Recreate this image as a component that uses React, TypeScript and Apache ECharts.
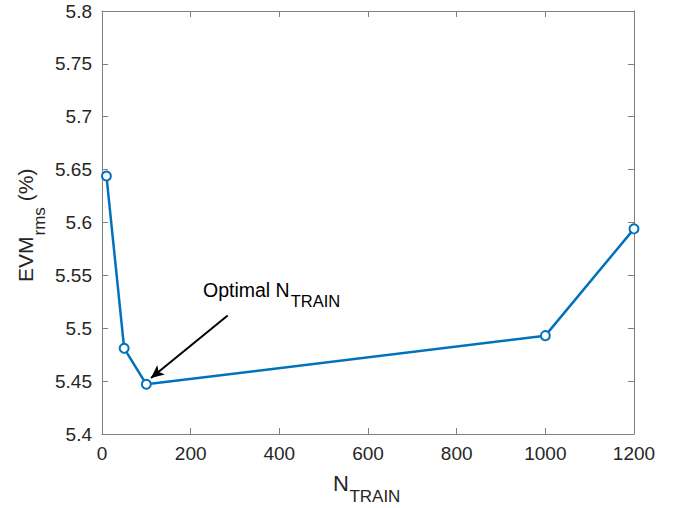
import React, { useEffect, useRef } from "react";
import * as echarts from "echarts";

const nTrain = [10, 50, 100, 1000, 1200];
const evmRms = [5.644, 5.481, 5.447, 5.493, 5.594];
const xTickValues = [0, 200, 400, 600, 800, 1000, 1200];
const yTickValues = [5.4, 5.45, 5.5, 5.55, 5.6, 5.65, 5.7, 5.75, 5.8];
const arrowStart = [283.5, 5.512];
const arrowEnd = [110.5, 5.453];

const FONT = "Liberation Sans";
const TEXT = "#262626";
const AXIS = "#7f7f7f";

function textWidth(text: string, size: number): number {
  const c = document.createElement("canvas").getContext("2d");
  if (!c) return text.length * size * 0.55;
  c.font = `${size}px "${FONT}"`;
  return c.measureText(text).width;
}

export default function App() {
  const ref = useRef<HTMLDivElement>(null);
  useEffect(() => {
    if (!ref.current) return;
    const chart = echarts.init(ref.current, undefined, { renderer: "svg" });
    const xMin = xTickValues[0];
    const xMax = xTickValues[xTickValues.length - 1];
    const xInt = xTickValues[1] - xTickValues[0];
    const yMin = yTickValues[0];
    const yMax = yTickValues[yTickValues.length - 1];
    const yInt = 0.05;
    const axisCommon = {
      axisLine: { show: true, onZero: false, lineStyle: { color: AXIS, width: 1 } },
      axisTick: { show: true, inside: true, length: 6, lineStyle: { color: AXIS, width: 1 } },
      splitLine: { show: false },
    };
    const annX = 203;
    const annSize = 19.5;
    const annSubX = annX + textWidth("Optimal N", annSize) + 1;
    const evmW = textWidth("EVM", 21);
    const rmsW = textWidth("rms", 17);
    const option: any = {
      animation: false,
      backgroundColor: "#ffffff",
      grid: { left: 102, right: 47, top: 11, bottom: 74, containLabel: false },
      xAxis: [
        {
          type: "value",
          position: "bottom",
          min: xMin,
          max: xMax,
          interval: xInt,
          ...axisCommon,
          axisLabel: {
            color: TEXT,
            fontSize: 19,
            fontFamily: FONT,
            margin: 10,
            formatter: (v: number) => String(v),
          },
        },
        {
          type: "value",
          position: "top",
          min: xMin,
          max: xMax,
          interval: xInt,
          ...axisCommon,
          axisLabel: { show: false },
        },
      ],
      yAxis: [
        {
          type: "value",
          position: "left",
          min: yMin,
          max: yMax,
          interval: yInt,
          ...axisCommon,
          axisLabel: {
            color: TEXT,
            fontSize: 19,
            fontFamily: FONT,
            margin: 10,
            formatter: (v: number) => String(+v.toFixed(2)),
          },
        },
        {
          type: "value",
          position: "right",
          min: yMin,
          max: yMax,
          interval: yInt,
          ...axisCommon,
          axisLabel: { show: false },
        },
      ],
      series: [
        {
          type: "line",
          data: nTrain.map((x, i) => [x, evmRms[i]]),
          clip: false,
          symbol: "emptyCircle",
          symbolSize: 9,
          lineStyle: { color: "#0072BD", width: 2.5 },
          itemStyle: { color: "#0072BD", borderColor: "#0072BD", borderWidth: 2.5 },
          emphasis: { disabled: true },
          markLine: {
            silent: true,
            symbol: ["none", "arrow"],
            symbolSize: [9, 13],
            label: { show: false },
            lineStyle: { color: "#000000", width: 2, type: "solid" },
            emphasis: { disabled: true },
            data: [[{ coord: arrowStart }, { coord: arrowEnd }]],
          },
        },
      ],
      graphic: [
        {
          type: "text",
          x: annX,
          y: 289.5,
          style: { text: "Optimal N", fill: "#000", fontSize: annSize, fontFamily: FONT, verticalAlign: "middle", align: "left" },
        },
        {
          type: "text",
          x: annSubX,
          y: 300.5,
          style: { text: "TRAIN", fill: "#000", fontSize: 16.5, fontFamily: FONT, verticalAlign: "middle", align: "left" },
        },
        {
          type: "text",
          x: 333,
          y: 483.5,
          style: { text: "N", fill: TEXT, fontSize: 22, fontFamily: FONT, verticalAlign: "middle", align: "left" },
        },
        {
          type: "text",
          x: 333 + textWidth("N", 22) + 0.5,
          y: 496.5,
          style: { text: "TRAIN", fill: TEXT, fontSize: 17, fontFamily: FONT, verticalAlign: "middle", align: "left" },
        },
        {
          type: "group",
          x: 25.5,
          y: 282,
          rotation: Math.PI / 2,
          children: [
            {
              type: "text",
              x: 0,
              y: 0,
              style: { text: "EVM", fill: TEXT, fontSize: 21, fontFamily: FONT, verticalAlign: "middle", align: "left" },
            },
            {
              type: "text",
              x: evmW + 1,
              y: 13.5,
              style: { text: "rms", fill: TEXT, fontSize: 17, fontFamily: FONT, verticalAlign: "middle", align: "left" },
            },
            {
              type: "text",
              x: evmW + 1 + rmsW + 6,
              y: 0,
              style: { text: "(%)", fill: TEXT, fontSize: 21, fontFamily: FONT, verticalAlign: "middle", align: "left" },
            },
          ],
        },
      ],
    };
    chart.setOption(option);
    return () => chart.dispose();
  }, []);
  return (
    <div
      ref={ref}
      style={{ position: "fixed", left: 0, top: 0, width: 681, height: 508, background: "#fff" }}
    />
  );
}
